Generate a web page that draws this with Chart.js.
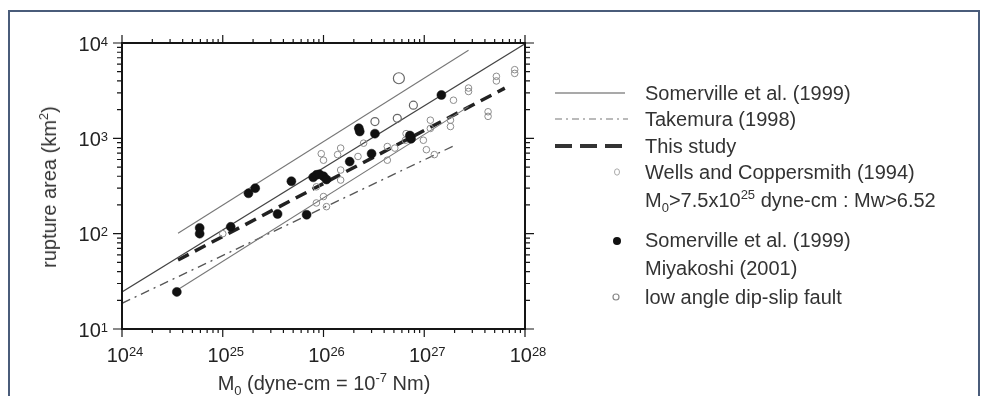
<!DOCTYPE html>
<html>
<head>
<meta charset="utf-8">
<script src="https://cdn.jsdelivr.net/npm/chart.js@4.4.1/dist/chart.umd.min.js"></script>
<style>
  html, body { margin: 0; padding: 0; background: #fff; }
  body { width: 982px; height: 396px; position: relative; overflow: hidden;
         font-family: "Liberation Sans", Arial, Helvetica, sans-serif; color: #333; }
  #frame { position: absolute; left: 8px; top: 10px; width: 968px; height: 400px;
           border: 2px solid #4a5c7a; border-bottom: none; }
  #chart { position: absolute; left: 0; top: 0; }
  .txt { position: absolute; font-size: 20px; line-height: 26px; white-space: nowrap; }
  .txt sub, .txt sup { font-size: 13px; line-height: 0; }
  .sample { position: absolute; }
</style>
</head>
<body>
<div id="frame"></div>
<canvas id="chart" width="982" height="396"></canvas>

<div class="txt" id="ytitle" style="left:49px; top:187px; transform:translate(-50%,-50%) rotate(-90deg);">rupture area (km<sup>2</sup>)</div>
<div class="txt" style="left:324px; top:370px; transform:translateX(-50%);">M<sub>0</sub> (dyne-cm = 10<sup>-7</sup> Nm)</div>

<!-- legende -->
<svg class="sample" style="left:550px; top:80px;" width="90" height="230">
  <line x1="5" y1="13" x2="75" y2="13" stroke="#555" stroke-width="1.2"/>
  <line x1="5" y1="39" x2="78" y2="39" stroke="#777" stroke-width="1.2" stroke-dasharray="7,4,2,4"/>
  <line x1="5" y1="66" x2="73" y2="66" stroke="#333" stroke-width="4" stroke-dasharray="17,8"/>
  <ellipse cx="67" cy="92" rx="2.5" ry="3.2" fill="none" stroke="#aaa" stroke-width="1"/>
  <circle cx="67" cy="161" r="4" fill="#111"/>
  <circle cx="66" cy="217" r="3" fill="none" stroke="#888" stroke-width="1.2"/>
</svg>
<div class="txt" style="left:645px; top:80px;">Somerville et al. (1999)</div>
<div class="txt" style="left:645px; top:106px;">Takemura (1998)</div>
<div class="txt" style="left:645px; top:133px;">This study</div>
<div class="txt" style="left:645px; top:159px;">Wells and Coppersmith (1994)</div>
<div class="txt" style="left:645px; top:187px;">M<sub>0</sub>&gt;7.5x10<sup>25</sup> dyne-cm : Mw&gt;6.52</div>
<div class="txt" style="left:645px; top:227px;">Somerville et al. (1999)</div>
<div class="txt" style="left:645px; top:255px;">Miyakoshi (2001)</div>
<div class="txt" style="left:645px; top:284px;">low angle dip-slip fault</div>

<script>
// Axes (log10)
const xMin = 1e24, xMax = 1e28;
const yMin = 10, yMax = 1e4;
const xTickExps = [24, 25, 26, 27, 28];
const yTickExps = [1, 2, 3, 4];
const minorSteps = [2, 3, 4, 5, 6, 7, 8, 9];

// Droites (extrémités) : M0 en dyne-cm, surface en km2
const somervilleLineM = [1e24, 1e28];
const somervilleLineS = [24.5, 9800];
const upperLineM = [3.6e24, 2.75e27];
const upperLineS = [101, 8400];
const lowerLineM = [3.6e24, 2.75e27];
const lowerLineS = [26, 2150];
const takemuraLineM = [1e24, 1.95e27];
const takemuraLineS = [18.6, 830];
const thisStudyLineM = [3.6e24, 6.3e27];
const thisStudyLineS = [53, 3360];

// Somerville et al. (1999) + Miyakoshi (2001) : points pleins
const somervilleM = [3.5e24, 5.9e24, 5.9e24, 1.2e25, 1.8e25, 2.1e25, 3.5e25, 4.8e25, 6.8e25, 7.9e25,
                     8.5e25, 9.1e25, 1.0e26, 1.07e26, 1.82e26, 2.24e26, 2.29e26, 3.0e26, 3.24e26, 7.2e26,
                     7.4e26, 1.48e27];
const somervilleS = [24.5, 115, 100, 118, 265, 300, 161, 355, 158, 390,
                     414, 420, 400, 370, 570, 1275, 1180, 690, 1120, 1070,
                     990, 2850];

// Wells and Coppersmith (1994) : petits cercles
const wellsM = [1.0e25, 2.75e27, 2.75e27, 1.95e27, 1.82e27, 1.82e27, 4.3e27, 4.3e27, 5.2e27, 5.2e27,
                7.9e27, 7.9e27, 1.15e27, 1.15e27, 9.8e26, 1.05e27, 6.6e26, 6.5e26, 5.1e26, 4.3e26,
                4.3e26, 2.5e26, 1.48e26, 1.38e26, 9.5e25, 1.0e26, 1.48e26, 1.48e26, 8.5e25, 1.0e26,
                8.5e25, 1.07e26, 1.26e27, 2.2e26];
const wellsS = [100, 3370, 3100, 2510, 1550, 1330, 1900, 1700, 4470, 4000,
                5250, 4800, 1550, 1270, 955, 760, 1120, 955, 790, 590,
                820, 890, 790, 675, 690, 590, 465, 365, 310, 245,
                210, 192, 675, 645];

// low angle dip-slip fault
const lowAngleM = [5.6e26, 7.8e26, 5.4e26, 3.24e26];
const lowAngleS = [4270, 2230, 1620, 1500];

const toXY = (m, s) => m.map((v, i) => ({ x: v, y: s[i] }));

function lineSet(m, s, color, width, dash) {
    return {
        type: 'line', data: toXY(m, s), borderColor: color, borderWidth: width,
        borderDash: dash, pointRadius: 0, fill: false, order: 2, tension: 0
    };
}

// Cadre, graduations et étiquettes 10^n
const logAxes = {
    id: 'logAxes',
    afterDraw(chart) {
        const { ctx, chartArea: a, scales: { x, y } } = chart;
        ctx.save();
        ctx.strokeStyle = '#151515';
        ctx.lineWidth = 2;
        ctx.strokeRect(a.left, a.top, a.right - a.left, a.bottom - a.top);
        ctx.lineWidth = 1.2;

        xTickExps.forEach((e, i) => {
            const steps = i < xTickExps.length - 1 ? [1].concat(minorSteps) : [1];
            steps.forEach(m => {
                const px = x.getPixelForValue(m * Math.pow(10, e));
                const len = m === 1 ? 8 : 4;
                ctx.beginPath();
                ctx.moveTo(px, a.bottom); ctx.lineTo(px, a.bottom + len);
                ctx.moveTo(px, a.top); ctx.lineTo(px, a.top - len);
                ctx.stroke();
            });
        });
        yTickExps.forEach((e, i) => {
            const steps = i < yTickExps.length - 1 ? [1].concat(minorSteps) : [1];
            steps.forEach(m => {
                const py = y.getPixelForValue(m * Math.pow(10, e));
                const len = m === 1 ? 9 : 5;
                ctx.beginPath();
                ctx.moveTo(a.left, py); ctx.lineTo(a.left - len, py);
                ctx.moveTo(a.right, py); ctx.lineTo(a.right + len, py);
                ctx.stroke();
            });
        });

        const big = '20px "Liberation Sans", Arial, sans-serif';
        const small = '13px "Liberation Sans", Arial, sans-serif';
        ctx.fillStyle = '#222';
        ctx.textBaseline = 'alphabetic';
        ctx.textAlign = 'left';

        xTickExps.forEach(e => {
            const px = x.getPixelForValue(Math.pow(10, e));
            ctx.font = big; const w1 = ctx.measureText('10').width;
            ctx.font = small; const w2 = ctx.measureText(String(e)).width;
            const x0 = px + 3 - (w1 + w2) / 2;
            ctx.font = big; ctx.fillText('10', x0, a.bottom + 33);
            ctx.font = small; ctx.fillText(String(e), x0 + w1, a.bottom + 27);
        });
        yTickExps.forEach(e => {
            const py = y.getPixelForValue(Math.pow(10, e));
            ctx.font = big; const w1 = ctx.measureText('10').width;
            ctx.font = small; const w2 = ctx.measureText(String(e)).width;
            const x0 = a.left - 14 - w1 - w2;
            ctx.font = big; ctx.fillText('10', x0, py + 7.5);
            ctx.font = small; ctx.fillText(String(e), x0 + w1, py + 2.5);
        });
        ctx.restore();
    }
};

new Chart(document.getElementById('chart'), {
    type: 'scatter',
    data: {
        datasets: [
            {
                label: 'Somerville et al. (1999) / Miyakoshi (2001)',
                data: toXY(somervilleM, somervilleS),
                pointRadius: 4.5, pointBackgroundColor: '#111', pointBorderColor: '#111',
                pointBorderWidth: 0.5, order: 1
            },
            {
                label: 'Wells and Coppersmith (1994)',
                data: toXY(wellsM, wellsS),
                pointRadius: 3.3, pointBackgroundColor: 'rgba(255,255,255,0)', pointBorderColor: '#8c8c8c',
                pointBorderWidth: 1, order: 1
            },
            {
                label: 'low angle dip-slip fault',
                data: toXY(lowAngleM, lowAngleS),
                pointRadius: [5.5, 4, 4, 4], pointBackgroundColor: 'rgba(255,255,255,0)', pointBorderColor: '#666',
                pointBorderWidth: 1.2, order: 1
            },
            lineSet(somervilleLineM, somervilleLineS, '#444', 1.2, []),
            lineSet(upperLineM, upperLineS, '#777', 1.1, []),
            lineSet(lowerLineM, lowerLineS, '#777', 1.1, []),
            lineSet(takemuraLineM, takemuraLineS, '#555', 1.3, [9, 5, 2, 5]),
            lineSet(thisStudyLineM, thisStudyLineS, '#222', 3.5, [12, 7])
        ]
    },
    options: {
        responsive: false,
        animation: false,
        layout: { padding: { left: 122, top: 43, right: 457, bottom: 67 } },
        plugins: { legend: { display: false }, tooltip: { enabled: false } },
        scales: {
            x: { type: 'logarithmic', min: xMin, max: xMax, display: false },
            y: { type: 'logarithmic', min: yMin, max: yMax, display: false }
        }
    },
    plugins: [logAxes]
});
</script>
</body>
</html>
